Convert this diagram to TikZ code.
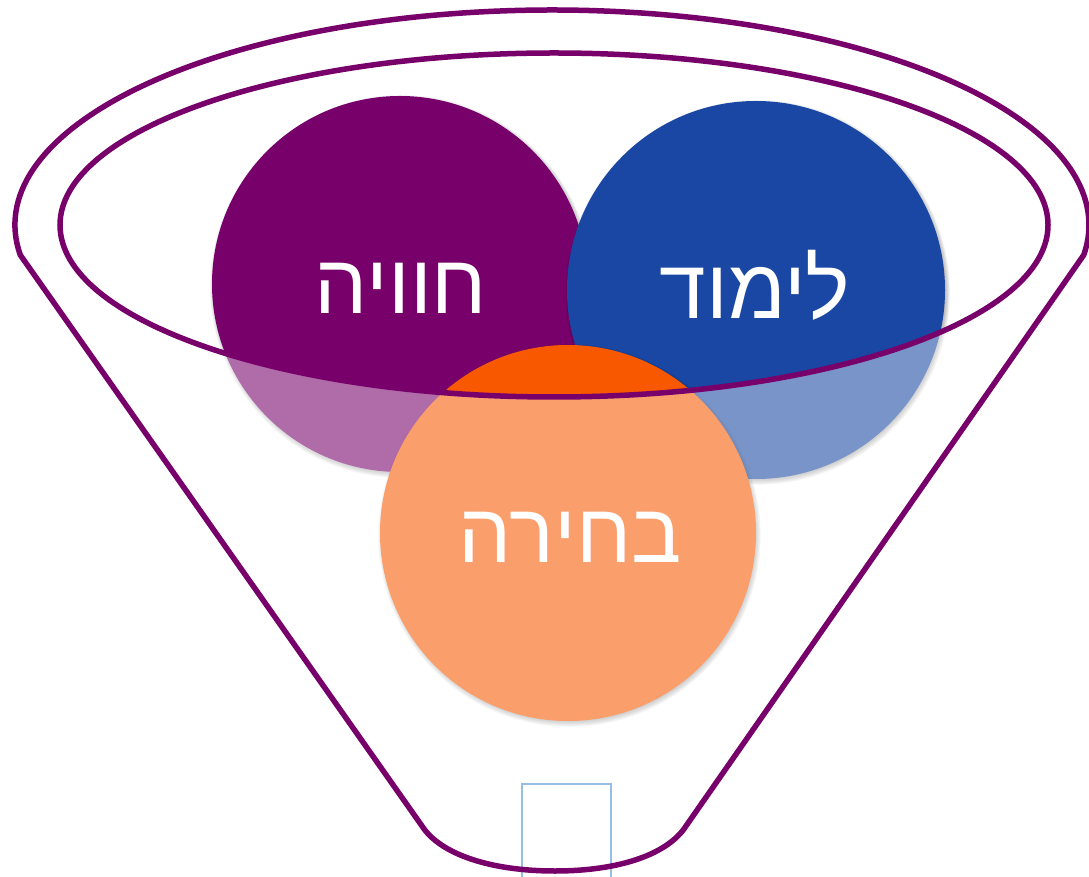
\documentclass[tikz,border=0pt]{standalone}
\usepackage{fontspec}
\newfontfamily\hebfont[Script=Hebrew]{Liberation Sans}
\TeXXeTstate=1
\definecolor{funpurple}{RGB}{120,0,107}
\definecolor{funblue}{RGB}{25,71,163}
\definecolor{funorange}{RGB}{248,88,0}
\definecolor{rectblue}{RGB}{150,190,228}
\tikzset{
  ball/.style={circle, inner sep=0pt, minimum size=376pt, draw=none},
  ring/.style={draw=funpurple, line width=5.5pt},
  word/.style={text=white, font=\hebfont\fontsize{84}{84}\selectfont, inner sep=0pt, anchor=base},
}
\newcommand{\softshadow}[3]{%
  \foreach \k in {1,...,7}{%
    \fill[black, opacity=0.05] (#1+1.5,#2-2.5) circle ({#3+\k*0.9});
  }%
}
\begin{document}
\begin{tikzpicture}[x=1pt,y=1pt]
\useasboundingbox (0,0) rectangle (1089,876);
\fill[white] (0,0) rectangle (1089,876);
% circles
\softshadow{400}{592}{185}
\node[ball, fill=funpurple] (exp) at (400,592) {};
\softshadow{756}{586}{186}
\node[ball, fill=funblue, minimum size=378pt] (learn) at (756,586) {};
\softshadow{568}{343}{185}
\node[ball, fill=funorange] (choice) at (568,343) {};
% lighten outside the inner ellipse
\fill[white, opacity=0.42, even odd rule] (-10,-10) rectangle (1100,890)
  (554,651) ellipse [x radius=494, y radius=172];
% labels
\node[word] (t1) at (401,562) {\beginR חוויה\endR};
\node[word] (t2) at (755,557) {\beginR לימוד\endR};
\node[word] (t3) at (570,313) {\beginR בחירה\endR};
% small rectangle
\draw[rectblue, line width=2.2pt] (522,-10) rectangle (611,92);
% inner ellipse
\draw[ring] (554,651) ellipse [x radius=494, y radius=172];
% outer funnel
\draw[ring, line join=round] (552,651) ++(188:537 and 215)
  arc[start angle=188, end angle=-8, x radius=537, y radius=215]
  -- (686,50) .. controls (668,22) and (620,5) .. (555,5)
  .. controls (490,5) and (440,22) .. (422,50) -- cycle;
\end{tikzpicture}
\end{document}
